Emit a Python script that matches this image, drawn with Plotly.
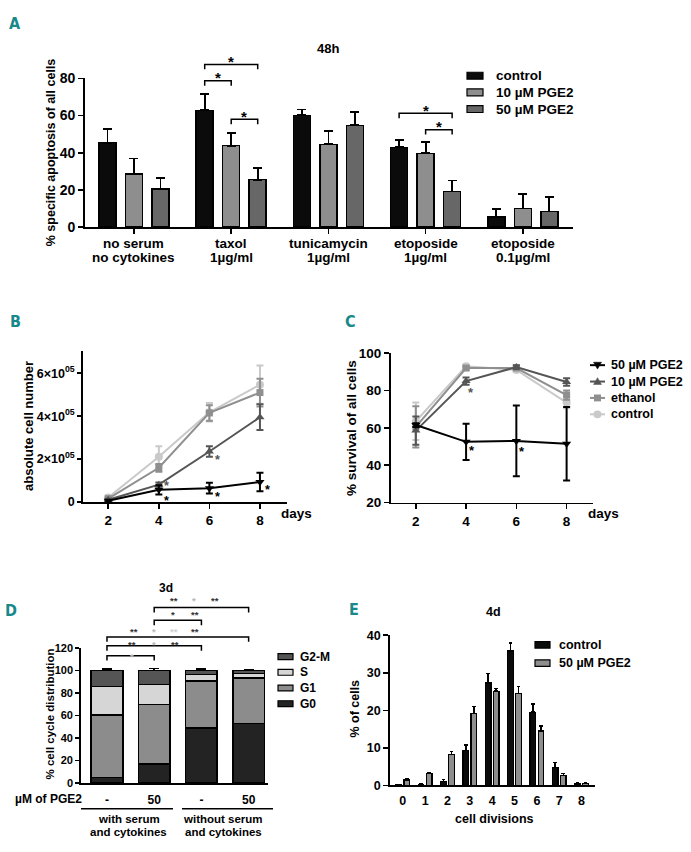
import numpy as np
import plotly.graph_objects as go

W, H = 691, 852
FONT = "Liberation Sans, Arial, Helvetica, sans-serif"
LETTER_FONT = "DejaVu Sans Condensed, Liberation Sans Narrow, Roboto, sans-serif"
TEAL = "#17888b"

# ---------------- Panel A data ----------------
A_categories = ["no serum\nno cytokines", "taxol\n1µg/ml", "tunicamycin\n1µg/ml",
                "etoposide\n1µg/ml", "etoposide\n0.1µg/ml"]
A_series = ["control", "10 µM PGE2", "50 µM PGE2"]
A_control = [45.4, 62.8, 60.1, 42.9, 5.5]
A_control_sd = [7.3, 8.6, 3.2, 3.9, 4.2]
A_pge10 = [28.5, 43.8, 44.5, 39.7, 10.0]
A_pge10_sd = [8.4, 6.7, 7.0, 6.0, 7.6]
A_pge50 = [20.6, 25.5, 54.7, 19.2, 8.4]
A_pge50_sd = [5.6, 6.3, 7.2, 5.9, 7.8]
A_yticks = [0, 20, 40, 60, 80]
# (group, series a, series b, bracket level)
A_sig = [(1, 0, 1, 78.7), (1, 0, 2, 87.5), (1, 1, 2, 58.0), (3, 0, 2, 61.2), (3, 1, 2, 52.4)]

# ---------------- Panel B data ----------------
B_days = [2, 4, 6, 8]
B_control = [2.0e4, 2.1e5, 4.18e5, 5.47e5]
B_control_sd = [1.0e4, 5.0e4, 4.3e4, 8.9e4]
B_ethanol = [1.5e4, 1.59e5, 4.15e5, 5.1e5]
B_ethanol_sd = [0.8e4, 1.8e4, 3.6e4, 6.5e4]
B_pge10 = [1.0e4, 8.0e4, 2.35e5, 3.95e5]
B_pge10_sd = [0.5e4, 1.0e4, 2.5e4, 6.0e4]
B_pge50 = [0.5e4, 5.6e4, 6.4e4, 9.3e4]
B_pge50_sd = [0.4e4, 2.2e4, 2.5e4, 4.3e4]
B_yticks = [0, 2e5, 4e5, 6e5]
B_yticktext = ["0", "2×10<sup>05</sup>", "4×10<sup>05</sup>", "6×10<sup>05</sup>"]
B_stars = [("pge10", 1), ("pge50", 1), ("pge10", 2), ("pge50", 2), ("pge50", 3)]

# ---------------- Panel C data ----------------
C_days = [2, 4, 6, 8]
C_control = [63.5, 93.0, 91.0, 73.5]
C_control_sd = [10.0, 0.8, 1.0, 3.0]
C_ethanol = [60.5, 92.0, 92.0, 77.5]
C_ethanol_sd = [11.0, 0.8, 1.0, 2.5]
C_pge10 = [58.5, 85.0, 92.5, 84.5]
C_pge10_sd = [7.5, 2.0, 1.0, 2.0]
C_pge50 = [61.5, 52.5, 53.0, 51.5]
C_pge50_sd = [1.0, 9.7, 18.9, 19.7]
C_yticks = [20, 40, 60, 80, 100]
C_stars = [("pge10", 1), ("pge50", 1), ("pge50", 2)]

# ---------------- Panel D data ----------------
D_conditions = ["-", "50", "-", "50"]
D_groups = ["with serum\nand cytokines", "without serum\nand cytokines"]
D_phases = ["G0", "G1", "S", "G2-M"]
D_G0 = [5.2, 16.8, 48.7, 53.0]
D_G0_sd = [2.0, 5.8, 11.6, 7.3]
D_G1 = [55.1, 52.8, 42.0, 40.3]
D_G1_sd = [1.4, 4.9, 3.0, 2.0]
D_S = [25.2, 17.9, 5.8, 3.8]
D_S_sd = [2.1, 3.2, 4.0, 2.5]
D_G2M = [14.5, 12.5, 3.5, 2.9]
D_G2M_sd = [1.0, 1.5, 1.7, 0.8]
D_yticks = [0, 20, 40, 60, 80, 100, 120]
# (bar a, bar b, level, [(star x, text, tone)])
D_sig = [
    (0, 1, 113.0, [(0.53, "*", "light")]),
    (0, 2, 121.7, [(0.52, "**", "dark"), (1.0, "*", "light"), (1.44, "**", "dark")]),
    (0, 3, 129.6, [(0.57, "**", "dark"), (1.0, "*", "light"), (1.42, "**", "pale"), (1.86, "**", "dark")]),
    (1, 2, 144.3, [(1.40, "*", "dark"), (1.86, "**", "dark")]),
    (1, 3, 155.7, [(1.42, "**", "dark"), (1.84, "*", "light"), (2.29, "**", "dark")]),
]

# ---------------- Panel E data ----------------
E_divisions = [0, 1, 2, 3, 4, 5, 6, 7, 8]
E_control = [0.2, 0.3, 1.0, 9.3, 27.3, 35.8, 19.5, 4.8, 0.4]
E_control_sd = [0.1, 0.1, 0.6, 1.5, 2.5, 2.1, 2.2, 1.3, 0.2]
E_pge50 = [1.5, 3.2, 8.3, 19.1, 25.1, 24.5, 14.5, 2.6, 0.5]
E_pge50_sd = [0.4, 0.2, 0.8, 1.9, 0.7, 1.9, 1.3, 0.6, 0.3]
E_series = ["control", "50 µM PGE2"]
E_yticks = [0, 10, 20, 30, 40]

# ---------------- geometry (pixels) ----------------
GEOM = {
    "A": dict(ax="", px=(85, 572.6), py=(223.3, 71.7), xr=(-0.504, 4.512), yr=(0, 80)),
    "B": dict(ax="2", px=(83, 287), py=(503.3, 350), xr=(1.0, 9.07), yr=(0, 7.02e5)),
    "C": dict(ax="3", px=(390.7, 593), py=(504, 351.7), xr=(1.0, 9.05), yr=(20, 100)),
    "D": dict(ax="4", px=(81, 268), py=(790, 652), xr=(-0.55, 3.41), yr=(0, 120)),
    "E": dict(ax="5", px=(390, 595), py=(792.3, 639.3), xr=(-0.57, 8.6), yr=(0, 40)),
}

annotations = []
shapes = []


def d2p(key, x, y):
    g = GEOM[key]
    px = g["px"][0] + (x - g["xr"][0]) / (g["xr"][1] - g["xr"][0]) * (g["px"][1] - g["px"][0])
    py = g["py"][0] + (y - g["yr"][0]) / (g["yr"][1] - g["yr"][0]) * (g["py"][1] - g["py"][0])
    return px, py


def text(px, py, s, size, color="black", xanchor="center", yanchor="middle", angle=0,
         family=FONT, bold=True):
    annotations.append(dict(x=px / W, y=1 - py / H, xref="paper", yref="paper", text=s,
                            showarrow=False, xanchor=xanchor, yanchor=yanchor, textangle=angle,
                            borderpad=0,
                            font=dict(family=family, size=size, color=color,
                                      weight="bold" if bold else "normal")))


def path(points, color="black", width=1.5, fill=None, close=False):
    d = "M " + " L ".join(f"{x / W:.5f},{1 - y / H:.5f}" for x, y in points)
    if close:
        d += " Z"
    shapes.append(dict(type="path", xref="paper", yref="paper", path=d,
                       line=dict(color=color, width=width),
                       fillcolor=fill if fill else "rgba(0,0,0,0)"))


def rect(x0, y0, x1, y1, fill, width=1.2):
    shapes.append(dict(type="rect", xref="paper", yref="paper", x0=x0 / W, x1=x1 / W,
                       y0=1 - y1 / H, y1=1 - y0 / H, fillcolor=fill,
                       line=dict(color="black", width=width)))


def bracket(key, xa, xb, level, tick=5, width=1.5):
    pa = d2p(key, xa, level)
    pb = d2p(key, xb, level)
    y = pa[1]
    path([(pa[0], y + tick), (pa[0], y), (pb[0], y), (pb[0], y + tick)], width=width)
    return y


fig = go.Figure()

# ---------------- Panel A ----------------
A_vals = [A_control, A_pge10, A_pge50]
A_sds = [A_control_sd, A_pge10_sd, A_pge50_sd]
A_colors = ["#0b0b0b", "#8e8e8e", "#676767"]
A_offsets = [-0.2727, 0.0, 0.2727]
xg = np.arange(len(A_categories))
for i in range(3):
    fig.add_trace(go.Bar(
        x=xg + A_offsets[i], y=A_vals[i], width=0.175, name=A_series[i], showlegend=False,
        marker=dict(color=A_colors[i], line=dict(color="black", width=1.5)),
        error_y=dict(type="data", array=A_sds[i], arrayminus=[0] * len(xg), symmetric=False,
                     color="black", thickness=1.8, width=4.5),
        xaxis="x", yaxis="y"))

for g, a, b, lvl in A_sig:
    y = bracket("A", g + A_offsets[a], g + A_offsets[b], lvl)
    mx = (d2p("A", g + A_offsets[a], lvl)[0] + d2p("A", g + A_offsets[b], lvl)[0]) / 2
    text(mx, y - 3, "*", 15)

for i, cat in enumerate(A_categories):
    px, _ = d2p("A", i, 0)
    for j, line in enumerate(cat.split("\n")):
        text(px, 239.5 + 15 * j, line, 13.5)

text(328, 41, "48h", 13)
text(51, 147, "% specific apoptosis of all cells", 12.5, angle=-90)
for i, s in enumerate(A_series):
    y = 69 + 17 * i
    rect(467, y - 3.5, 483, y + 3.5, A_colors[i])
    text(495, y, s, 13.5, xanchor="left")

# ---------------- Panels B and C (lines) ----------------
LINE_STYLE = {
    "control": dict(color="#c9c9c9", symbol="circle", size=8),
    "ethanol": dict(color="#8f8f8f", symbol="square", size=7),
    "pge10": dict(color="#555555", symbol="triangle-up", size=8),
    "pge50": dict(color="#000000", symbol="triangle-down", size=8),
}
B_data = {"control": (B_control, B_control_sd), "ethanol": (B_ethanol, B_ethanol_sd),
          "pge10": (B_pge10, B_pge10_sd), "pge50": (B_pge50, B_pge50_sd)}
C_data = {"control": (C_control, C_control_sd), "ethanol": (C_ethanol, C_ethanol_sd),
          "pge10": (C_pge10, C_pge10_sd), "pge50": (C_pge50, C_pge50_sd)}
NAMES = {"pge50": "50 µM PGE2", "pge10": "10 µM PGE2", "ethanol": "ethanol", "control": "control"}

for key, days, data, axn in [("B", B_days, B_data, "2"), ("C", C_days, C_data, "3")]:
    for s in ["control", "ethanol", "pge10", "pge50"]:
        st = LINE_STYLE[s]
        vals, sd = data[s]
        fig.add_trace(go.Scatter(
            x=days, y=vals, mode="lines+markers", name=NAMES[s], showlegend=False,
            line=dict(color=st["color"], width=2),
            marker=dict(symbol=st["symbol"], size=st["size"], color=st["color"]),
            error_y=dict(type="data", array=sd, color=st["color"], thickness=2, width=3.5),
            xaxis="x" + axn, yaxis="y" + axn, cliponaxis=False))

STAR_SHIFT_B = {("pge10", 1): (8, 1), ("pge50", 1): (8, 11), ("pge10", 2): (8, 9),
                ("pge50", 2): (8, 9), ("pge50", 3): (8, 8)}
for s, i in B_stars:
    px, py = d2p("B", B_days[i], B_data[s][0][i])
    dx, dy = STAR_SHIFT_B[(s, i)]
    text(px + dx, py + dy, "*", 12.5, color=LINE_STYLE[s]["color"])
STAR_SHIFT_C = {("pge10", 1): (5, 12), ("pge50", 1): (6, 9), ("pge50", 2): (6, 11)}
for s, i in C_stars:
    px, py = d2p("C", C_days[i], C_data[s][0][i])
    dx, dy = STAR_SHIFT_C[(s, i)]
    text(px + dx, py + dy, "*", 13, color=LINE_STYLE[s]["color"])

text(28, 426, "absolute cell number", 13, angle=-90)
text(280, 515, "days", 13.5, xanchor="left")
text(352, 428, "% survival of all cells", 13.5, angle=-90)
text(587, 515, "days", 13.5, xanchor="left")

for i, s in enumerate(["pge50", "pge10", "ethanol", "control"]):
    y = 364 + 16.7 * i
    st = LINE_STYLE[s]
    path([(590, y), (605, y)], color=st["color"], width=2)
    cx = 597.5
    if st["symbol"] == "circle":
        shapes.append(dict(type="circle", xref="paper", yref="paper", x0=(cx - 4) / W,
                           x1=(cx + 4) / W, y0=1 - (y + 4) / H, y1=1 - (y - 4) / H,
                           fillcolor=st["color"], line=dict(color=st["color"], width=0)))
    elif st["symbol"] == "square":
        shapes.append(dict(type="rect", xref="paper", yref="paper", x0=(cx - 3.5) / W,
                           x1=(cx + 3.5) / W, y0=1 - (y + 3.5) / H, y1=1 - (y - 3.5) / H,
                           fillcolor=st["color"], line=dict(color=st["color"], width=0)))
    elif st["symbol"] == "triangle-up":
        path([(cx - 4, y + 3), (cx + 4, y + 3), (cx, y - 4)], color=st["color"], width=0.5,
             fill=st["color"], close=True)
    else:
        path([(cx - 4, y - 3), (cx + 4, y - 3), (cx, y + 4)], color=st["color"], width=0.5,
             fill=st["color"], close=True)
    text(610, y, NAMES[s], 12.5, xanchor="left")

# ---------------- Panel D (stacked) ----------------
D_vals = [D_G0, D_G1, D_S, D_G2M]
D_sds = [D_G0_sd, D_G1_sd, D_S_sd, D_G2M_sd]
D_colors = ["#232323", "#8c8c8c", "#d6d6d6", "#555555"]
xd = np.arange(len(D_conditions))
base = np.zeros(len(xd))
for i in range(4):
    fig.add_trace(go.Bar(
        x=xd, y=D_vals[i], base=base.copy(), width=0.67, name=D_phases[i], showlegend=False,
        marker=dict(color=D_colors[i], line=dict(color="black", width=1.5)),
        error_y=dict(type="data", array=D_sds[i], arrayminus=[0] * len(xd), symmetric=False,
                     color="black", thickness=1.6, width=5),
        xaxis="x4", yaxis="y4"))
    base = base + np.array(D_vals[i])

TONES = {"dark": "#333333", "light": "#b8b8b8", "pale": "#d0d0d0"}
D_star_lift = [-1, 1, 6, 6, 7]
for (a, b, lvl, stars), lift in zip(D_sig, D_star_lift):
    y = bracket("D", a, b, lvl)
    for sx, s, tone in stars:
        px, _ = d2p("D", sx, lvl)
        text(px, y - lift, s, 9.5, color=TONES[tone])

text(83, 806, "µM of PGE2", 12, xanchor="right")
for gi, lab in enumerate(D_groups):
    xa, _ = d2p("D", 2 * gi, 0)
    xb, _ = d2p("D", 2 * gi + 1, 0)
    x0 = 81 if gi == 0 else 182
    x1 = 173 if gi == 0 else 273
    path([(x0, 816), (x1, 816)], width=1.5)
    for j, line in enumerate(lab.split("\n")):
        text((xa + xb) / 2 - 2, 827 + 12.5 * j, line, 11.5)
text(166, 591, "3d", 12)
text(50, 720, "% cell cycle distribution", 11.5, angle=-90)
for i, ph in enumerate(["G2-M", "S", "G1", "G0"]):
    y = 661 + 16 * i
    rect(278, y - 3, 293, y + 3, D_colors[D_phases.index(ph)])
    text(299, y, ph, 12, xanchor="left")

# ---------------- Panel E ----------------
E_vals = [E_control, E_pge50]
E_sds = [E_control_sd, E_pge50_sd]
E_colors = ["#0b0b0b", "#8e8e8e"]
E_offsets = [-0.18, 0.18]
xe = np.array(E_divisions, dtype=float)
for i in range(2):
    fig.add_trace(go.Bar(
        x=xe + E_offsets[i], y=E_vals[i], width=0.25, name=E_series[i], showlegend=False,
        marker=dict(color=E_colors[i], line=dict(color="black", width=1.2)),
        error_y=dict(type="data", array=E_sds[i], arrayminus=[0] * len(xe), symmetric=False,
                     color="black", thickness=1.5, width=1.8),
        xaxis="x5", yaxis="y5"))
text(493, 616, "4d", 12.5)
text(494, 827, "cell divisions", 12.5)
text(355, 714, "% of cells", 12.5, angle=-90)
for i, s in enumerate(E_series):
    y = 649 + 18.7 * i
    rect(535, y - 3.3, 550, y + 3.3, E_colors[i])
    text(558, y, s, 12.5, xanchor="left")

# panel letters
for L, (x, y) in {"A": (15, 16), "B": (16, 319), "C": (350, 320), "D": (11, 614),
                  "E": (354, 613)}.items():
    text(x, y, L, 16, color=TEAL, family=LETTER_FONT)

# ---------------- axes ----------------
layout_axes = {}


def axis(key, xkw, ykw):
    g = GEOM[key]
    s = g["ax"]
    common = dict(showline=True, linecolor="black", linewidth=1.8, ticks="outside", ticklen=5,
                  tickwidth=1.6, tickcolor="black", showgrid=False, zeroline=False,
                  fixedrange=True)
    xd_ = dict(common, domain=[g["px"][0] / W, g["px"][1] / W], range=list(g["xr"]),
               anchor="y" + s)
    yd_ = dict(common, domain=[1 - g["py"][0] / H, 1 - g["py"][1] / H], range=list(g["yr"]),
               anchor="x" + s)
    xd_.update(xkw)
    yd_.update(ykw)
    layout_axes["xaxis" + s] = xd_
    layout_axes["yaxis" + s] = yd_


def tf(size):
    return dict(family=FONT, size=size, color="black", weight="bold")


axis("A", dict(tickvals=list(range(len(A_categories))), showticklabels=False),
     dict(tickvals=A_yticks, tickfont=tf(14)))
axis("B", dict(tickvals=B_days, tickfont=tf(13.5)),
     dict(tickvals=B_yticks, ticktext=B_yticktext, tickfont=tf(12.5), ticklen=4))
axis("C", dict(tickvals=C_days, tickfont=tf(13.5)),
     dict(tickvals=C_yticks, tickfont=tf(13.5)))
axis("D", dict(tickvals=list(range(len(D_conditions))), ticktext=D_conditions,
               tickcolor="rgba(0,0,0,0)", tickfont=tf(12)),
     dict(tickvals=D_yticks, tickfont=tf(11), ticklen=4))
axis("E", dict(tickvals=E_divisions, tickcolor="rgba(0,0,0,0)", ticklen=3, tickfont=tf(12.5)),
     dict(tickvals=E_yticks, tickfont=tf(12.5)))

fig.update_layout(
    width=W, height=H, margin=dict(l=0, r=0, t=0, b=0), autosize=False,
    paper_bgcolor="white", plot_bgcolor="white", barmode="stack",
    showlegend=False, annotations=annotations, shapes=shapes,
    font=dict(family=FONT, color="black"),
    **layout_axes)

fig.write_html("out.html", config={"displayModeBar": False, "staticPlot": True},
               post_script="document.body.style.margin='0';document.body.style.overflow='hidden';")
